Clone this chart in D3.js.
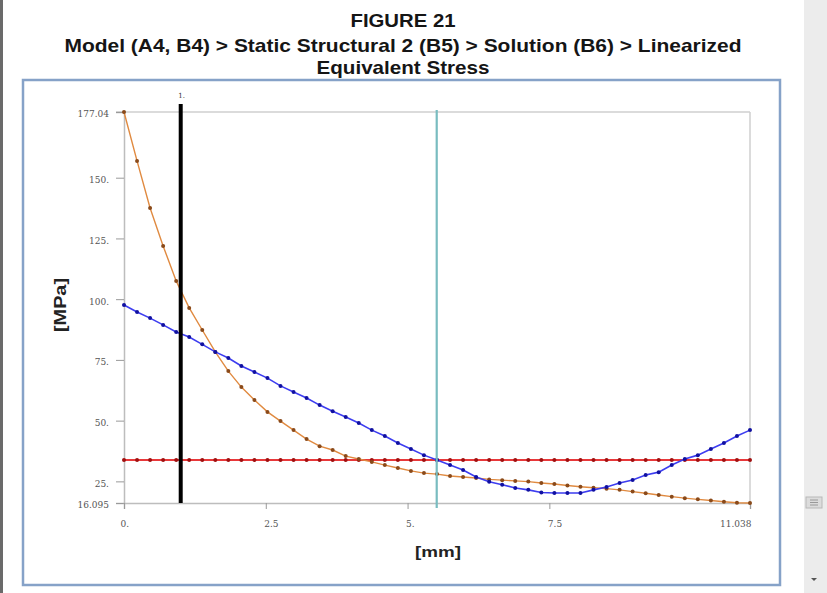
<!DOCTYPE html>
<html>
<head>
<meta charset="utf-8">
<script src="https://cdn.jsdelivr.net/npm/d3@7"></script>
<style>
  body { margin: 0; background: #fff; }
  svg { display: block; }
</style>
</head>
<body>
<svg id="chart" width="827" height="593"></svg>
<script>
// path data, 49 points evenly spaced along the path
const pathLength = 11.038;
const nPoints = 49;

const total = [177.04, 156.9, 137.5, 121.9, 107.5, 96.4, 87.3, 78.3, 70.4, 63.8,
  58.5, 53.6, 49.8, 46.1, 42.4, 39.5, 37.9, 35.4, 34.2, 33.0,
  31.7, 30.5, 29.3, 28.4, 28.0, 27.2, 26.8, 26.4, 25.8, 25.5,
  25.2, 24.9, 24.3, 23.9, 23.3, 22.8, 22.4, 22.0, 21.5, 20.8,
  20.1, 19.4, 18.7, 18.1, 17.6, 17.1, 16.6, 16.2, 16.095];

const bending = [97.6, 94.7, 92.2, 89.4, 86.5, 84.4, 81.4, 78.3, 75.8, 72.5,
  70.0, 67.5, 64.3, 61.8, 59.3, 56.4, 53.9, 51.5, 49.0, 46.1,
  43.7, 40.8, 38.3, 35.8, 33.8, 31.7, 29.7, 26.8, 24.8, 23.6,
  22.3, 21.5, 20.4, 20.2, 20.2, 20.2, 21.5, 22.7, 24.3, 25.6,
  27.6, 28.8, 31.7, 34.2, 35.8, 38.3, 40.8, 43.7, 46.1];

const membrane = [33.8, 33.8, 33.8, 33.8, 33.8, 33.8, 33.8, 33.8, 33.8, 33.8,
  33.8, 33.8, 33.8, 33.8, 33.8, 33.8, 33.8, 33.8, 33.8, 33.8,
  33.8, 33.8, 33.8, 33.8, 33.8, 33.8, 33.8, 33.8, 33.8, 33.8,
  33.8, 33.8, 33.8, 33.8, 33.8, 33.8, 33.8, 33.8, 33.8, 33.8,
  33.8, 33.8, 33.8, 33.8, 33.8, 33.8, 33.8, 33.8, 33.8];

const yTicks = [16.095, 25, 50, 75, 100, 125, 150, 177.04];
const yTickLabels = ['16.095', '25.', '50.', '75.', '100.', '125.', '150.', '177.04'];
const xTicks = [0, 2.5, 5, 7.5, 11.038];
const xTickLabels = ['0.', '2.5', '5.', '7.5', '11.038'];

const markerBlack = 1.0;   // probe line "1."
const markerTeal = 5.514;

const titleLines = ['FIGURE 21',
  'Model (A4, B4) > Static Structural 2 (B5) > Solution (B6) > Linearized',
  'Equivalent Stress'];
const titleWidths = [105, 677, 173];
const titleBase = [27, 52, 74];

let svg = d3.select('#chart');

// page decorations: left border and scroll bar
svg.append('rect').attr('x', 0).attr('y', 0).attr('width', 3).attr('height', 593).attr('fill', '#6a6a6a');
svg.append('rect').attr('x', 804).attr('y', 0).attr('width', 23).attr('height', 593).attr('fill', '#ececec');
svg.append('rect').attr('x', 806).attr('y', 497).attr('width', 16).attr('height', 11).attr('fill', '#dcdcdc').attr('stroke', '#b8b8b8');
svg.append('g').selectAll('line').data([500, 502.5, 505]).join('line')
  .attr('x1', 810).attr('x2', 818).attr('y1', d => d).attr('y2', d => d)
  .attr('stroke', '#888').attr('stroke-width', 0.8);
svg.append('path').attr('d', 'M811,578 L817,578 L814,581 Z').attr('fill', '#555');

// title
svg.append('g').selectAll('text').data(titleLines).join('text')
  .attr('x', 403)
  .attr('y', (d, i) => titleBase[i])
  .attr('text-anchor', 'middle')
  .attr('font-family', 'Liberation Sans, Arial, sans-serif')
  .attr('font-weight', 'bold')
  .attr('font-size', 18.5)
  .attr('textLength', (d, i) => titleWidths[i])
  .attr('lengthAdjust', 'spacingAndGlyphs')
  .attr('fill', '#151515')
  .text(d => d);

// chart frame
svg.append('rect')
  .attr('x', 23).attr('y', 80).attr('width', 757).attr('height', 505)
  .attr('fill', '#fff').attr('stroke', '#86a2c8').attr('stroke-width', 2.5);

const x = d3.scaleLinear().domain([0, pathLength]).range([124, 750]);
const y = d3.scaleLinear().domain([16.095, 177.04]).range([503, 112]);

const xs = d3.range(nPoints).map(i => i * pathLength / (nPoints - 1));

// plot border (top / right)
svg.append('line').attr('x1', 116).attr('x2', 750).attr('y1', y(177.04)).attr('y2', y(177.04))
  .attr('stroke', '#cfcfcf').attr('stroke-width', 1.5);
svg.append('line').attr('x1', 750).attr('x2', 750).attr('y1', y(177.04)).attr('y2', 503)
  .attr('stroke', '#cfcfcf').attr('stroke-width', 1.5);

// axes
const yAxis = svg.append('g').attr('transform', 'translate(124,0)')
  .call(d3.axisLeft(y).tickValues(yTicks).tickSize(8).tickPadding(7)
    .tickFormat((d, i) => yTickLabels[i]));
const xAxis = svg.append('g').attr('transform', 'translate(0,503)')
  .call(d3.axisBottom(x).tickValues(xTicks).tickSize(6).tickPadding(12)
    .tickFormat((d, i) => xTickLabels[i]));
[yAxis, xAxis].forEach(g => {
  g.select('.domain').attr('stroke', '#bdbdbd').attr('stroke-width', 1.5);
  g.selectAll('.tick line').attr('stroke', '#9a9a9a');
  g.selectAll('.tick text').attr('fill', '#555').attr('font-size', 9)
    .attr('font-family', 'DejaVu Serif, serif');
});
yAxis.selectAll('.tick text').attr('dy', '0.55em');
xAxis.selectAll('.tick text')
  .attr('text-anchor', (d, i) => i === xTicks.length - 1 ? 'end' : 'start')
  .attr('dx', (d, i) => i === 0 ? -4 : (i === xTicks.length - 1 ? 1 : -2));

// series
const series = [
  { values: membrane, line: '#e8383a', dot: '#a01010', width: 2 },
  { values: total, line: '#e08a40', dot: '#8a4a1a', width: 1.4 },
  { values: bending, line: '#3d3df0', dot: '#1010a0', width: 1.6 }
];
const lineGen = d3.line().x((d, i) => x(xs[i])).y(d => y(d));

series.forEach(s => {
  svg.append('path').datum(s.values)
    .attr('d', lineGen)
    .attr('fill', 'none')
    .attr('stroke', s.line)
    .attr('stroke-width', s.width);
  svg.append('g').selectAll('circle').data(s.values).join('circle')
    .attr('cx', (d, i) => x(xs[i]))
    .attr('cy', d => y(d))
    .attr('r', 2)
    .attr('fill', s.dot);
});

// marker lines
svg.append('line').attr('x1', x(markerTeal)).attr('x2', x(markerTeal))
  .attr('y1', 110).attr('y2', 508)
  .attr('stroke', '#79bcc0').attr('stroke-width', 2.2);
svg.append('line').attr('x1', x(markerBlack)).attr('x2', x(markerBlack))
  .attr('y1', 104).attr('y2', 503)
  .attr('stroke', '#000').attr('stroke-width', 4);
svg.append('text').attr('x', x(markerBlack) + 1).attr('y', 98)
  .attr('text-anchor', 'middle').attr('font-size', 7).attr('font-family', 'DejaVu Serif, serif')
  .attr('fill', '#333').text('1.');

// axis titles
svg.append('text')
  .attr('transform', 'translate(66,305) rotate(-90)')
  .attr('text-anchor', 'middle')
  .attr('font-family', 'Liberation Sans, Arial, sans-serif')
  .attr('font-weight', 'bold').attr('font-size', 16).attr('fill', '#222')
  .attr('textLength', 54).attr('lengthAdjust', 'spacingAndGlyphs')
  .text('[MPa]');
svg.append('text')
  .attr('x', 438).attr('y', 557)
  .attr('text-anchor', 'middle')
  .attr('font-family', 'Liberation Sans, Arial, sans-serif')
  .attr('font-weight', 'bold').attr('font-size', 14).attr('fill', '#222')
  .attr('textLength', 46).attr('lengthAdjust', 'spacingAndGlyphs')
  .text('[mm]');
</script>
</body>
</html>
